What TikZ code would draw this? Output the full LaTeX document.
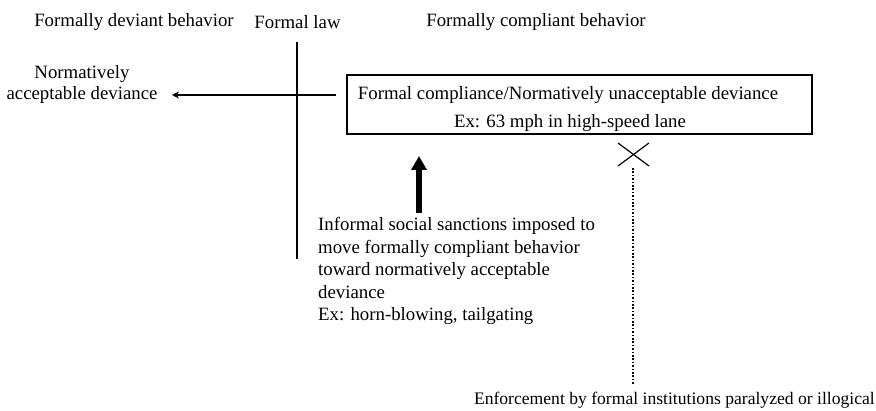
\documentclass[tikz,border=0pt]{standalone}
\usepackage{fontspec}
\setmainfont{Liberation Serif}
\usetikzlibrary{arrows.meta,calc}
\begin{document}
\begin{tikzpicture}[x=1pt,y=-1pt,
  lbl/.style={inner sep=0pt,font=\fontsize{18.8}{22.5}\selectfont},
  blk/.style={lbl,align=left,anchor=north west},
  thin line/.style={line width=1.2pt},
  box/.style={draw,line width=1.4pt,minimum width=465pt,minimum height=59pt,inner sep=0pt},
  push/.style={line width=6pt,-{Triangle[width=15pt,length=14pt]}},
  pull/.style={line width=1.8pt,-{Stealth[width=7pt,length=7pt]}},
  blocked/.style={line width=1.5pt,dash pattern=on 1.6pt off 1.8pt}]
\useasboundingbox (0,0) rectangle (876,411);

% column headings
\node[lbl] (hdev) at (134,22) {Formally deviant behavior};
\node[lbl] (hlaw) at (297.5,22) {Formal law};
\node[lbl] (hcomp) at (536,22) {Formally compliant behavior};

% the formal law as a dividing line
\coordinate (lawtop) at (297,42);
\coordinate (lawbot) at (297,259);
\draw[thin line] (lawtop) -- (lawbot);

% compliant but normatively unacceptable state
\node[box] (state) at (579.5,104.5) {};
\node[lbl] (st1) at (568,95) {Formal compliance/Normatively unacceptable deviance};
\node[lbl] (st2) at (570,123) {Ex: 63 mph in high-speed lane};

% target state on the deviant side
\node[lbl,align=center,font=\fontsize{18.8}{21.5}\selectfont] (target) at (82,84.5) {Normatively\\acceptable deviance};
\coordinate (pullstart) at (336,95);
\coordinate (pullend) at (172,95);
\draw[pull] (pullstart) -- (pullend);

% informal sanctions
\coordinate (pushbase) at (419,213);
\coordinate (pushtip) at (419,156);
\draw[push] (pushbase) -- (pushtip);
\node[blk] (sanctions) at (318,217.5) {Informal social sanctions imposed to\\
move formally compliant behavior\\
toward normatively acceptable\\
deviance\\
Ex: horn-blowing, tailgating};

% blocked formal enforcement
\coordinate (xc) at (633.5,154.5);
\draw[thin line] ($(xc)+(-15.5,-11.5)$) -- ($(xc)+(15.5,11.5)$);
\draw[thin line] ($(xc)+(-15.5,11.5)$) -- ($(xc)+(15.5,-11.5)$);
\node[lbl,anchor=base east,font=\fontsize{17.6}{21}\selectfont] (enforce) at (875,405) {Enforcement by formal institutions paralyzed or illogical};
\coordinate (dottop) at (633,168);
\draw[blocked] (dottop) -- ($(dottop |- enforce.north)+(0,-7)$);
\end{tikzpicture}
\end{document}
